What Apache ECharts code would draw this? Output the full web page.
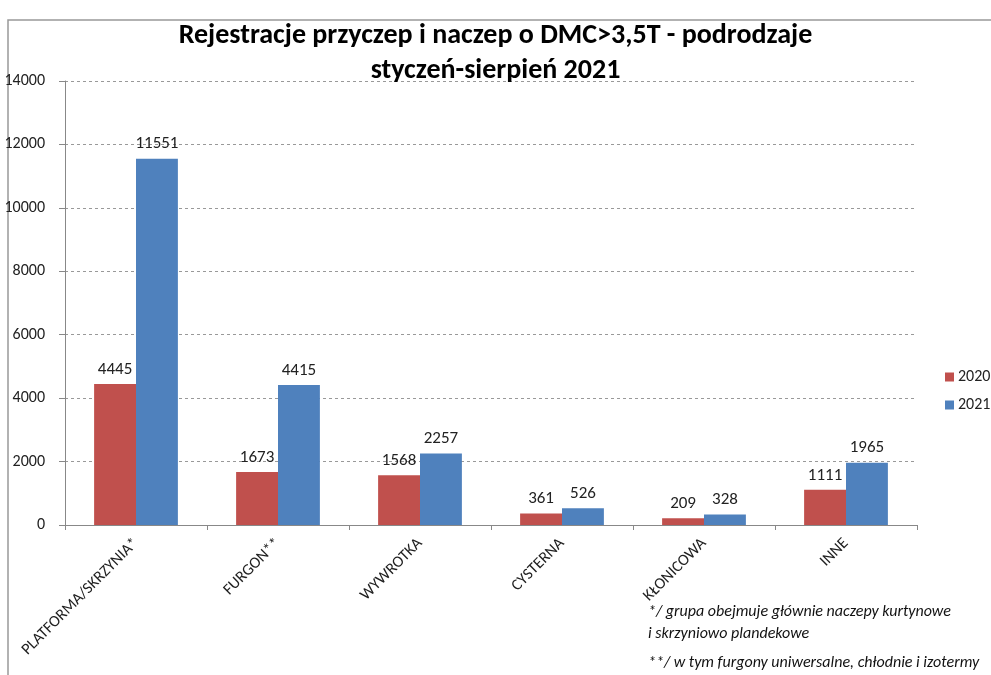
<!DOCTYPE html>
<html><head><meta charset="utf-8">
<script src="https://cdn.jsdelivr.net/npm/echarts@6/dist/echarts.min.js"></script>
<style>html,body{margin:0;padding:0;background:#fff}#c{width:991px;height:675px}</style>
</head><body><div id="c"></div>
<script>
const categories = ['PLATFORMA/SKRZYNIA*', 'FURGON**', 'WYWROTKA', 'CYSTERNA', 'KŁONICOWA', 'INNE'];
const values2020 = [4445, 1673, 1568, 361, 209, 1111];
const values2021 = [11551, 4415, 2257, 526, 328, 1965];
const seriesNames = ['2020', '2021'];
const footnotes = ['*/ grupa obejmuje głównie naczepy kurtynowe', 'i skrzyniowo plandekowe', '**/ w tym furgony uniwersalne, chłodnie i izotermy'];

const font = "Carlito, Lato, 'Open Sans', 'Noto Sans', sans-serif";
const chart = echarts.init(document.getElementById('c'));
chart.setOption({
  animation: false,
  textStyle: { fontFamily: font },
  title: {
    text: 'Rejestracje przyczep i naczep o DMC>3,5T - podrodzaje\nstyczeń-sierpień 2021',
    left: 'center', top: 13,
    textStyle: { fontFamily: font, fontSize: 28, fontWeight: 'bold', color: '#000', lineHeight: 35 }
  },
  legend: {
    orient: 'vertical', left: 940, top: 364, itemGap: 12,
    itemWidth: 9, itemHeight: 9, icon: 'rect', itemStyle: { borderWidth: 0 },
    textStyle: { fontFamily: font, fontSize: 16, color: '#222', padding: [0, 0, 0, -1] },
    data: seriesNames
  },
  grid: { left: 65, right: 74, top: 81, bottom: 150, containLabel: false },
  xAxis: {
    type: 'category', data: categories,
    axisLine: { lineStyle: { color: '#888' } },
    axisTick: { show: true, alignWithLabel: false, lineStyle: { color: '#888' }, length: 5 },
    axisLabel: { rotate: 45, fontSize: 16, color: '#222', fontFamily: font, margin: 16, interval: 0 }
  },
  yAxis: {
    type: 'value', min: 0, max: 14000, interval: 2000,
    axisLine: { show: true, lineStyle: { color: '#888' } },
    axisTick: { show: true, lineStyle: { color: '#888' }, length: 6 },
    axisLabel: { fontSize: 16, color: '#222', fontFamily: font, margin: 20, formatter: v => String(v) },
    splitLine: { lineStyle: { color: '#999', type: [3, 3] } }
  },
  series: [
    { name: seriesNames[0], type: 'bar', data: values2020, barGap: '0%', barCategoryGap: '41%',
      itemStyle: { color: '#C0504D' },
      label: { show: true, position: 'top', fontSize: 17, color: '#222', fontFamily: font, distance: 6 } },
    { name: seriesNames[1], type: 'bar', data: values2021, barGap: '0%', barCategoryGap: '41%',
      itemStyle: { color: '#4F81BD' },
      label: { show: true, position: 'top', fontSize: 17, color: '#222', fontFamily: font, distance: 6 } }
  ],
  graphic: [
    { type: 'rect', shape: { x: 8, y: 20, width: 1000, height: 700 }, style: { fill: 'none', stroke: '#999', lineWidth: 1.5 }, silent: true },
    { type: 'text', left: 648, top: 604, style: { text: footnotes[0], font: 'italic 16px ' + font, fill: '#111' } },
    { type: 'text', left: 648, top: 626, style: { text: footnotes[1], font: 'italic 16px ' + font, fill: '#111' } },
    { type: 'text', left: 648, top: 655, style: { text: footnotes[2], font: 'italic 16px ' + font, fill: '#111' } }
  ]
});
</script></body></html>
